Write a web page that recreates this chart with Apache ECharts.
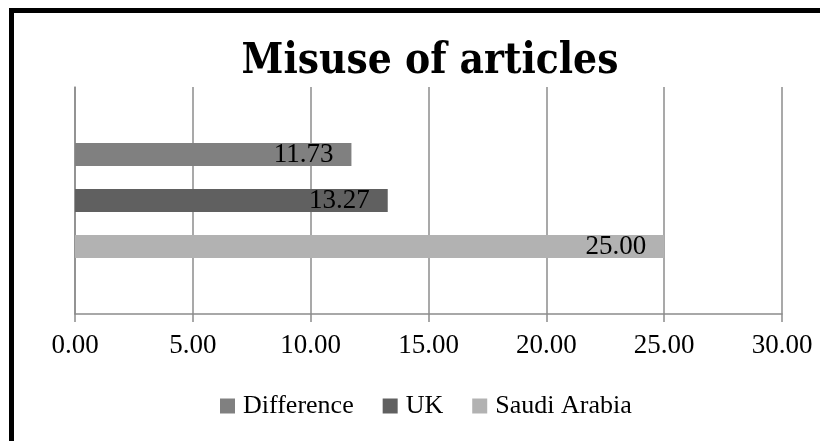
<!DOCTYPE html>
<html>
<head>
<meta charset="utf-8">
<script src="https://cdn.jsdelivr.net/npm/echarts@6/dist/echarts.min.js"></script>
<style>
html,body{margin:0;padding:0;background:#fff;}
#wrap{position:relative;width:820px;height:441px;overflow:hidden;}
#frame{position:absolute;left:9px;top:8px;width:900px;height:500px;border-top:5px solid #000;border-left:5px solid #000;box-sizing:border-box;}
#chart{position:absolute;left:0;top:0;width:820px;height:441px;}
</style>
</head>
<body>
<div id="wrap">
<div id="frame"></div>
<div id="chart"></div>
</div>
<script>
const title = 'Misuse of articles';
const categories = [''];
const seriesNames = ['Difference', 'UK', 'Saudi Arabia'];
const differenceValues = [11.73];
const ukValues = [13.27];
const saudiValues = [25.00];
const colors = ['#808080', '#606060', '#b2b2b2'];
const xTicks = { min: 0, max: 30, interval: 5 };

const seriesValues = [differenceValues, ukValues, saudiValues];
const chart = echarts.init(document.getElementById('chart'), null, { renderer: 'canvas' });
const serif = 'Liberation Serif';
chart.setOption({
  animation: false,
  backgroundColor: 'transparent',
  title: {
    text: title,
    left: 425,
    textAlign: 'center',
    top: 36,
    textStyle: { fontFamily: 'DejaVu Serif Condensed', fontWeight: 'bold', fontSize: 42, color: '#000' }
  },
  legend: {
    data: seriesNames,
    bottom: 17,
    left: 215,
    itemWidth: 15,
    itemHeight: 15,
    itemGap: 29,
    icon: 'rect',
    textStyle: { fontFamily: serif, fontSize: 26, color: '#000', padding: [0, 0, 0, 3] }
  },
  grid: { left: 75, right: 38, top: 87, bottom: 127, containLabel: false },
  xAxis: {
    type: 'value',
    min: xTicks.min, max: xTicks.max, interval: xTicks.interval,
    axisLine: { show: true, lineStyle: { color: '#8c8c8c', width: 1.5 } },
    axisTick: { show: true, length: 8, lineStyle: { color: '#8c8c8c', width: 1.5 } },
    splitLine: { show: true, lineStyle: { color: '#8c8c8c', width: 1.5 } },
    axisLabel: { formatter: v => v.toFixed(2), fontFamily: serif, fontSize: 27, color: '#000', margin: 18 }
  },
  yAxis: {
    type: 'category',
    data: categories,
    inverse: true,
    axisLine: { show: true, lineStyle: { color: '#8c8c8c', width: 1.5 } },
    axisTick: { show: false },
    axisLabel: { show: false }
  },
  series: seriesNames.map((name, i) => ({
    name,
    type: 'bar',
    data: seriesValues[i],
    barWidth: 23,
    barGap: '100%',
    itemStyle: { color: colors[i] },
    label: {
      show: true,
      position: 'insideRight',
      distance: 18,
      formatter: p => p.value.toFixed(2),
      fontFamily: serif,
      fontSize: 27,
      color: '#000'
    }
  }))
});
</script>
</body>
</html>
